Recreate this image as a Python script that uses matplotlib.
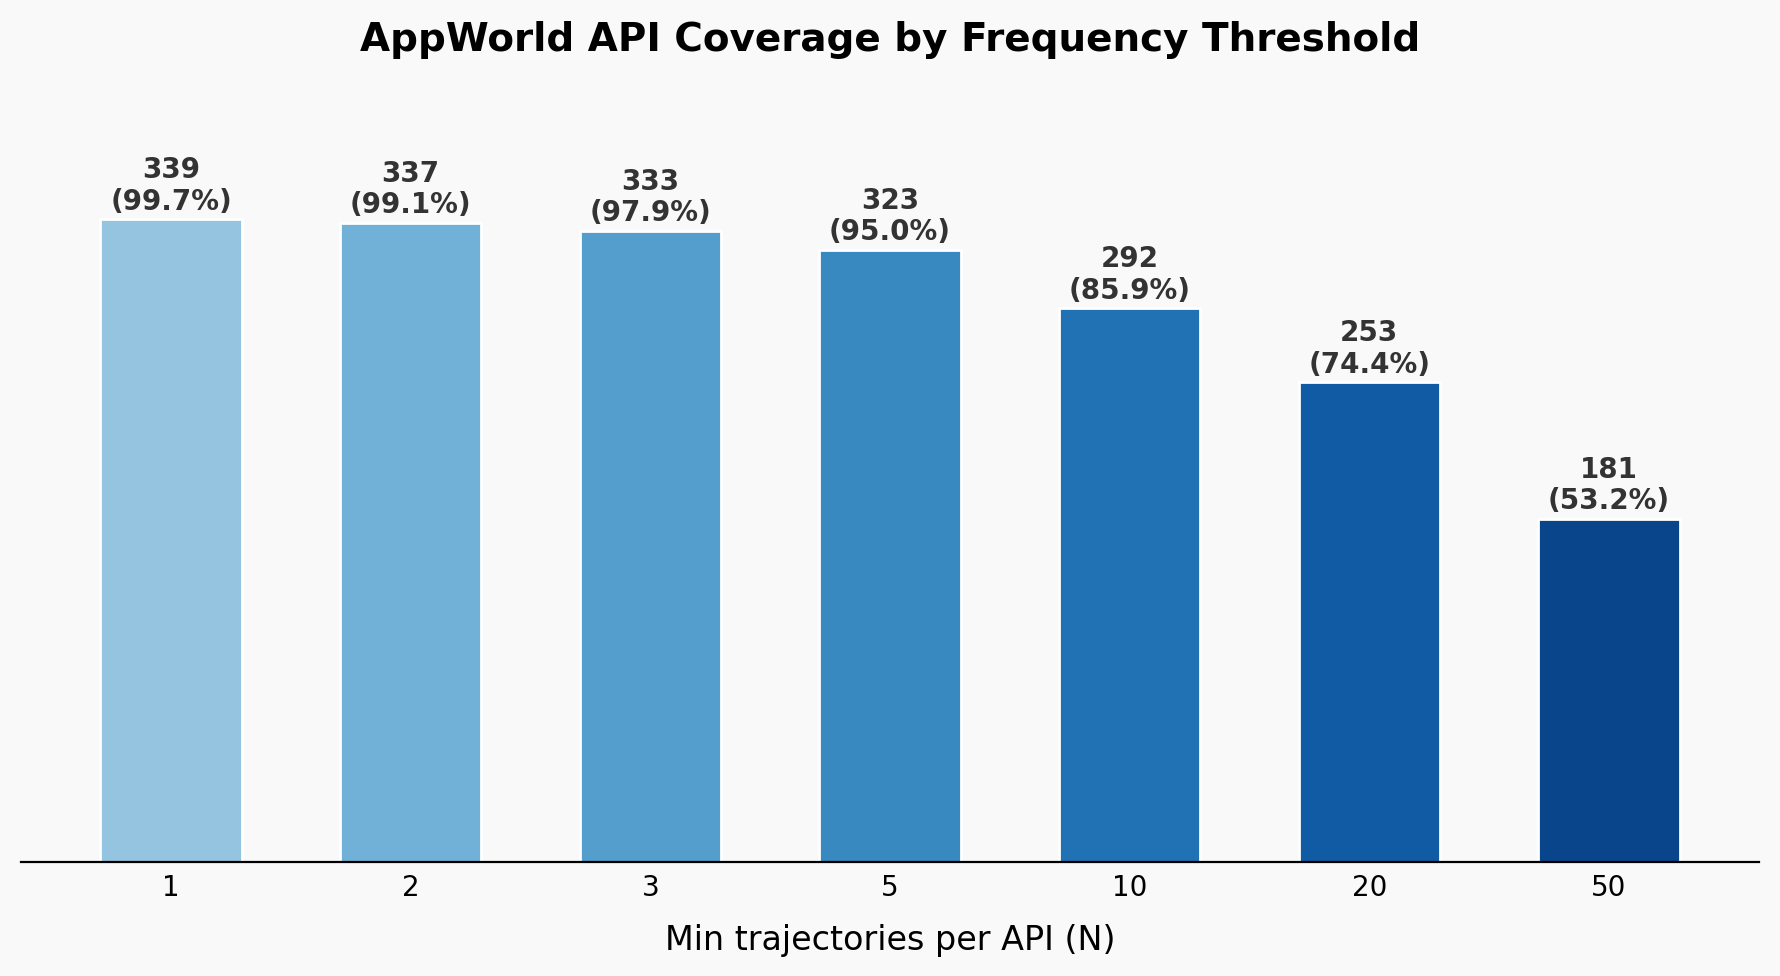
# AppWorld API 覆蓋率長條圖
import matplotlib
matplotlib.use('Agg')
import matplotlib.pyplot as plt
import numpy as np

thresholds = ['1', '2', '3', '5', '10', '20', '50']
api_counts = [339, 337, 333, 323, 292, 253, 181]
total_apis = 340

bg = '#f9f9f9'
colors = plt.cm.Blues(np.linspace(0.4, 0.92, len(thresholds)))

fig, ax = plt.subplots(figsize=(8.9, 4.88), dpi=200)
fig.patch.set_facecolor(bg)
ax.set_facecolor(bg)

x = np.arange(len(thresholds))
bars = ax.bar(x, api_counts, width=0.59, color=colors, edgecolor='white', linewidth=1)

for bar, n in zip(bars, api_counts):
    pct = n / total_apis * 100
    ax.text(bar.get_x() + bar.get_width() / 2, bar.get_height() + 2,
            f'{n}\n({pct:.1f}%)', ha='center', va='bottom',
            fontsize=10, fontweight='bold', color='#333333', linespacing=1.15)

ax.set_xticks(x)
ax.set_xticklabels(thresholds, fontsize=10)
ax.tick_params(axis='x', length=0, pad=4)
ax.set_yticks([])
ax.set_ylim(0, total_apis * 1.146)
for s in ['top', 'right', 'left']:
    ax.spines[s].set_visible(False)
ax.spines['bottom'].set_linewidth(0.8)

ax.set_xlabel('Min trajectories per API (N)', fontsize=12, labelpad=8)
ax.set_title('AppWorld API Coverage by Frequency Threshold', fontsize=14,
             fontweight='bold', pad=26)

plt.subplots_adjust(left=0.012, right=0.988, top=0.8737, bottom=0.1164)
plt.savefig('out.png', dpi=200, facecolor=bg)
